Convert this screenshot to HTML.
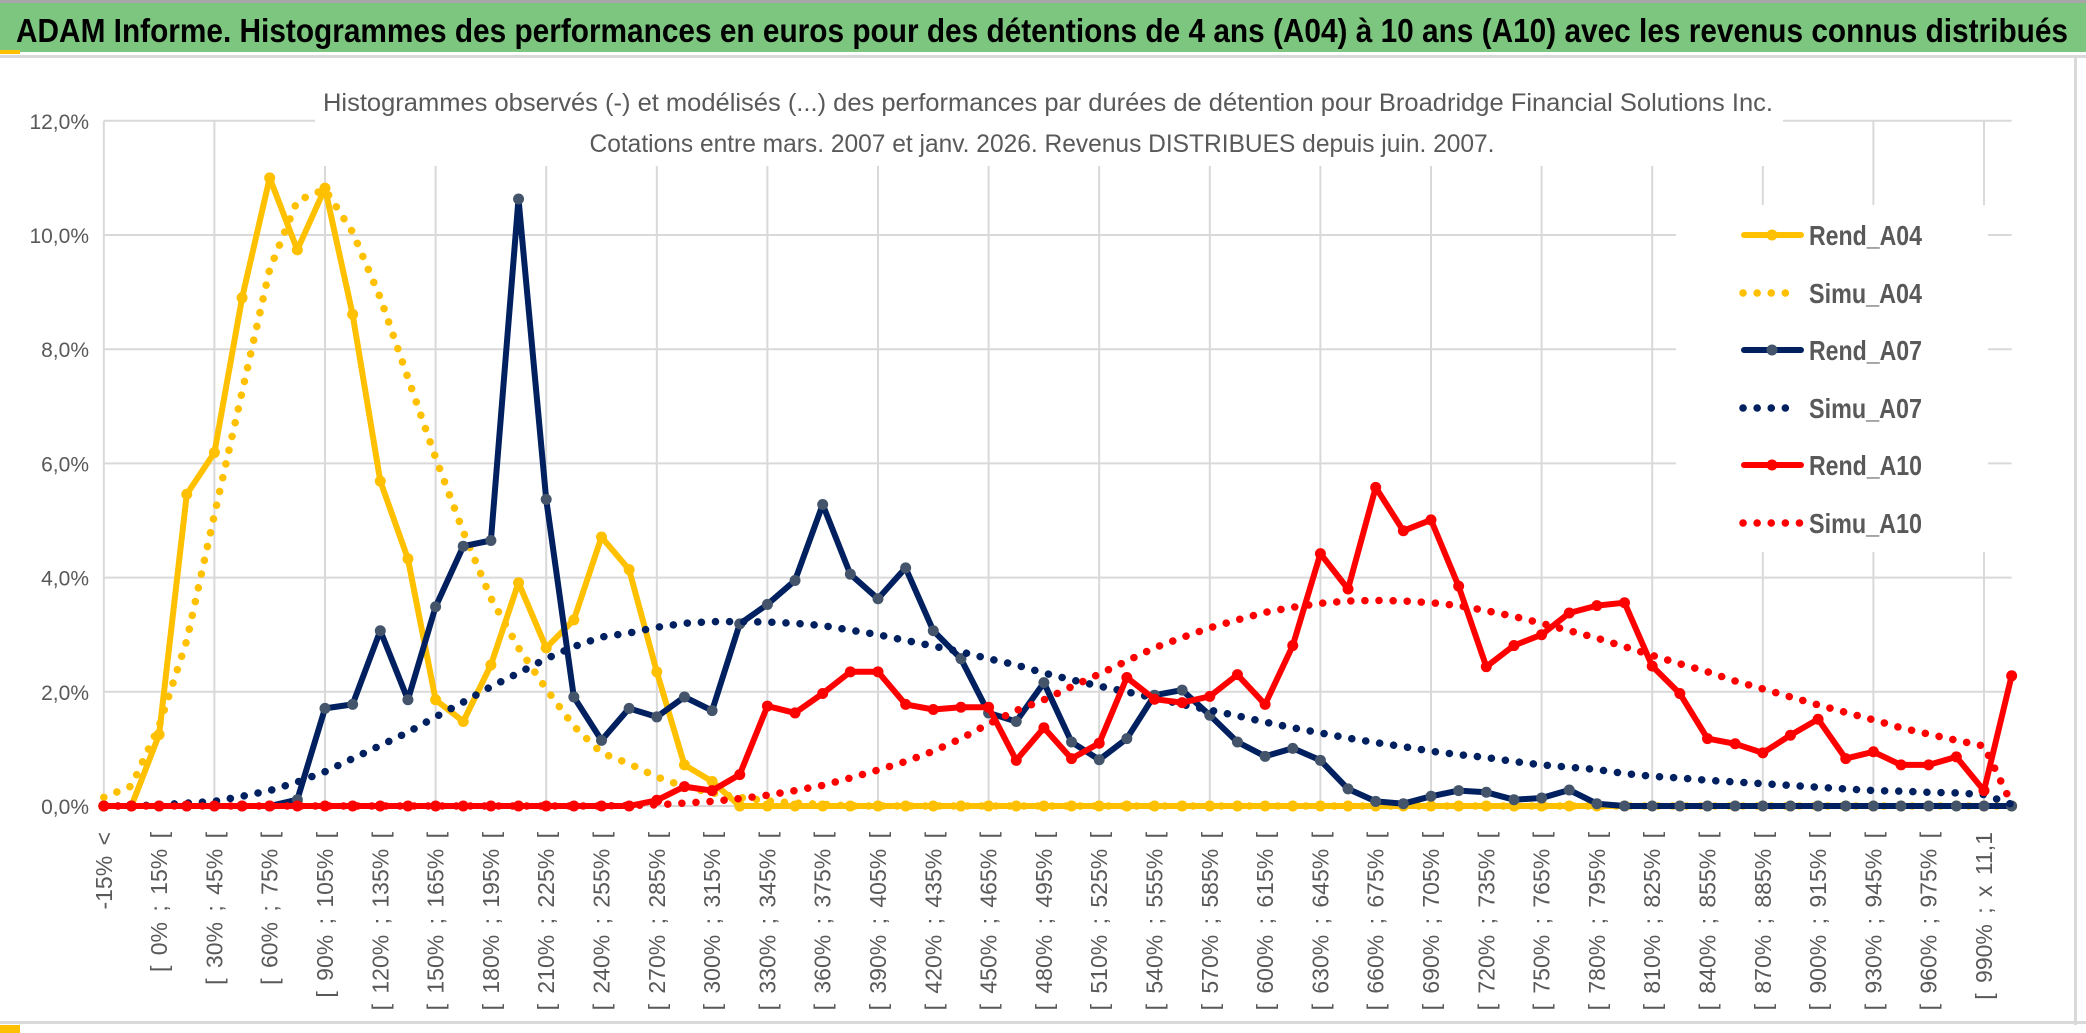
<!DOCTYPE html>
<html><head><meta charset="utf-8"><style>
html,body{margin:0;padding:0;background:#fff;}
svg{display:block;font-family:"Liberation Sans",sans-serif;}
</style></head><body>
<svg id="chart" width="2086" height="1033" viewBox="0 0 2086 1033" xmlns="http://www.w3.org/2000/svg">
<rect x="0" y="0" width="2086" height="1033" fill="#fff"/>
<rect x="0" y="0" width="2086" height="3" fill="#a6a6a6"/>
<rect x="0" y="3" width="2086" height="49" fill="#7DC67F"/>
<rect x="0" y="50" width="20" height="4" fill="#FFC000"/>
<rect x="0" y="55" width="2086" height="3" fill="#d9d9d9"/>
<rect x="2074" y="55" width="3" height="970" fill="#d9d9d9"/>
<rect x="0" y="1021" width="2086" height="3" fill="#d9d9d9"/>
<rect x="0" y="1025" width="20" height="8" fill="#FFC000"/>
<text x="16" y="42" font-size="33" font-weight="bold" fill="#000" textLength="2052" lengthAdjust="spacingAndGlyphs">ADAM Informe. Histogrammes des performances en euros pour des détentions de 4 ans (A04) à 10 ans (A10) avec les revenus connus distribués</text>
<g id="grid"></g>
<rect x="315" y="84" width="1468" height="82" fill="#fff"/>
<text x="1048" y="111" font-size="25" fill="#595959" text-anchor="middle" textLength="1450" lengthAdjust="spacingAndGlyphs">Histogrammes observés (-) et modélisés (...) des performances par durées de détention pour Broadridge Financial Solutions Inc.</text>
<text x="1042" y="152" font-size="25" fill="#595959" text-anchor="middle" textLength="905" lengthAdjust="spacingAndGlyphs">Cotations entre mars. 2007 et janv. 2026. Revenus DISTRIBUES depuis juin. 2007.</text>
<g id="yaxis"></g>
<g id="xaxis"></g>
<g id="series"></g>
<g id="legend"></g>
</svg>
<script>
const rendA04 = [0,0,1.25,5.46,6.19,8.9,11.0,9.74,10.82,8.61,5.69,4.33,1.86,1.48,2.47,3.91,2.77,3.26,4.71,4.14,2.35,0.72,0.43,0,0,0,0,0,0,0,0,0,0,0,0,0,0,0,0,0,0,0,0,0,0,0,0,0,0,0,0,0,0,0,0,0,0,0,0,0,0,0,0,0,0,0,0,0,0,0];
const simuA04 = [0.15,0.35,1.4,2.9,5.1,7.25,9.4,10.6,10.8,10.05,8.9,7.5,6.1,4.8,3.64,2.77,2.05,1.4,0.93,0.74,0.51,0.34,0.23,0.15,0.09,0.05,0.03,0,0,0,0,0,0,0,0,0,0,0,0,0,0,0,0,0,0,0,0,0,0,0,0,0,0,0,0,0,0,0,0,0,0,0,0,0,0,0,0,0,0,0];
const rendA07 = [0,0,0,0,0,0,0,0.11,1.71,1.78,3.07,1.86,3.49,4.55,4.65,10.63,5.37,1.91,1.15,1.71,1.56,1.91,1.67,3.19,3.53,3.95,5.28,4.06,3.63,4.17,3.07,2.58,1.63,1.48,2.16,1.12,0.81,1.18,1.94,2.03,1.59,1.12,0.87,1.01,0.8,0.3,0.08,0.04,0.17,0.27,0.24,0.11,0.14,0.28,0.04,0,0,0,0,0,0,0,0,0,0,0,0,0,0,0];
const simuA07 = [0,0,0.02,0.05,0.08,0.17,0.27,0.42,0.6,0.83,1.06,1.29,1.56,1.82,2.09,2.33,2.58,2.79,2.96,3.03,3.13,3.2,3.23,3.23,3.22,3.2,3.16,3.08,3.0,2.9,2.8,2.7,2.58,2.47,2.33,2.21,2.1,2.0,1.89,1.78,1.68,1.58,1.47,1.37,1.28,1.19,1.11,1.04,0.96,0.9,0.85,0.78,0.72,0.68,0.64,0.57,0.52,0.49,0.45,0.42,0.39,0.36,0.33,0.3,0.27,0.26,0.24,0.23,0.2,0.03];
const rendA10 = [0,0,0,0,0,0,0,0,0,0,0,0,0,0,0,0,0,0,0,0,0.1,0.34,0.27,0.55,1.75,1.63,1.97,2.35,2.35,1.78,1.69,1.73,1.73,0.8,1.37,0.83,1.1,2.25,1.87,1.81,1.92,2.3,1.78,2.81,4.42,3.8,5.58,4.82,5.01,3.85,2.44,2.81,3.0,3.38,3.51,3.56,2.45,1.97,1.18,1.09,0.93,1.24,1.52,0.83,0.95,0.72,0.72,0.86,0.27,2.28];
const simuA10 = [0,0,0,0,0,0,0,0,0,0,0,0,0,0,0,0,0,0,0,0.01,0.02,0.05,0.08,0.13,0.19,0.27,0.36,0.49,0.63,0.78,0.96,1.18,1.44,1.67,1.86,2.09,2.31,2.54,2.77,2.95,3.12,3.26,3.39,3.48,3.55,3.59,3.6,3.59,3.56,3.51,3.42,3.32,3.2,3.07,2.94,2.79,2.64,2.49,2.35,2.19,2.05,1.91,1.77,1.64,1.51,1.37,1.26,1.15,1.05,0.04];
const yTicks = [0,2,4,6,8,10,12];
const yTickLabels = ["0,0%","2,0%","4,0%","6,0%","8,0%","10,0%","12,0%"];
const categories = ["-15% <"];
for (let b = -15; b < 990; b += 15) categories.push("[ " + b + "% ; " + (b + 15) + "% [");
categories.push("[ 990% ; x 11,1");
categories.push("x 11,1 <");

const NS = "http://www.w3.org/2000/svg";
const X0 = 103.8, DX = 27.65, Y0 = 806, PX = 57.1;
function xs(i){ return X0 + i * DX; }
function ys(v){ return Y0 - v * PX; }
function mk(tag, attrs, parent){
  const e = document.createElementNS(NS, tag);
  for (const k in attrs) e.setAttribute(k, attrs[k]);
  parent.appendChild(e);
  return e;
}
const grid = document.getElementById('grid');
const xEnd = xs(categories.length - 1);
yTicks.forEach(function(t){
  const l = mk('line', {x1: X0, x2: xEnd, y1: ys(t), y2: ys(t), stroke: '#d9d9d9', 'stroke-width': 2}, grid);
  
  
});
for (let i = 0; i < categories.length; i += 4) {
  const l = mk('line', {x1: xs(i), x2: xs(i), y1: ys(12), y2: Y0, stroke: '#d9d9d9', 'stroke-width': 2}, grid);
  
  
}
const yaxis = document.getElementById('yaxis');
yTicks.forEach(function(t, k){
  const tx = mk('text', {x: 89, y: ys(t) + 8, 'font-size': 21, fill: '#595959', 'text-anchor': 'end'}, yaxis);
  tx.textContent = yTickLabels[k];
  
  
});
const xaxis = document.getElementById('xaxis');
for (let i = 0; i < categories.length - 1; i += 2) {
  const cx = xs(i) + 8, cy = 832;
  const tx = mk('text', {x: cx, y: cy, 'font-size': 23, 'word-spacing': 4, fill: '#595959', 'text-anchor': 'end', transform: 'rotate(-90 ' + cx + ' ' + cy + ')'}, xaxis);
  tx.textContent = categories[i];
  
  
}
const series = document.getElementById('series');
function drawRend(vals, color, mcolor, name){
  const g = mk('g', {}, series);
  
  
  const pts = vals.map(function(v, i){ return xs(i).toFixed(1) + ',' + ys(v).toFixed(1); }).join(' ');
  const pl = mk('polyline', {points: pts, fill: 'none', stroke: color, 'stroke-width': 6, 'stroke-linejoin': 'round'}, g);
  
  
  vals.forEach(function(v, i){
    const c = mk('circle', {cx: xs(i), cy: ys(v), r: 5.5, fill: mcolor}, g);
    
    
  });
}
function drawSimu(vals, color, name){
  const pts = vals.map(function(v, i){ return xs(i).toFixed(1) + ',' + ys(v).toFixed(1); }).join(' ');
  const pl = mk('polyline', {points: pts, fill: 'none', stroke: color, 'stroke-width': 7.5, 'stroke-linecap': 'round', 'stroke-linejoin': 'round', 'stroke-dasharray': '0.1 14'}, series);
  
  
}
drawRend(rendA04, '#FFC000', '#FFC000', 'rend-a04');
drawSimu(simuA04, '#FFC000', 'simu-a04');
drawRend(rendA07, '#002060', '#44546A', 'rend-a07');
drawSimu(simuA07, '#002060', 'simu-a07');
drawRend(rendA10, '#FF0000', '#FF0000', 'rend-a10');
drawSimu(simuA10, '#FF0000', 'simu-a10');

const legend = document.getElementById('legend');
const lbg = mk('rect', {x: 1676, y: 205, width: 312, height: 347, fill: '#fff'}, legend);


const legNames = ["Rend_A04","Simu_A04","Rend_A07","Simu_A07","Rend_A10","Simu_A10"];
const legColors = ['#FFC000','#FFC000','#002060','#002060','#FF0000','#FF0000'];
const legMarker = ['#FFC000',null,'#44546A',null,'#FF0000',null];
const legY = [235,293,350,408,465,523];
legNames.forEach(function(n, k){
  const g = mk('g', {}, legend);
  
  
  const y = legY[k];
  if (legMarker[k]) {
    mk('line', {x1: 1744, x2: 1801, y1: y, y2: y, stroke: legColors[k], 'stroke-width': 6, 'stroke-linecap': 'round'}, g);
    mk('circle', {cx: 1772, cy: y, r: 5.5, fill: legMarker[k]}, g);
  } else {
    mk('line', {x1: 1743, x2: k === 5 ? 1801 : 1790, y1: y, y2: y, stroke: legColors[k], 'stroke-width': 7.5, 'stroke-linecap': 'round', 'stroke-dasharray': '0.1 14'}, g);
  }
  const t = mk('text', {x: 1809, y: y + 10, 'font-size': 28, 'font-weight': 'bold', fill: '#595959', textLength: 113, lengthAdjust: 'spacingAndGlyphs'}, g);
  t.textContent = n;
});
</script>
</body></html>
